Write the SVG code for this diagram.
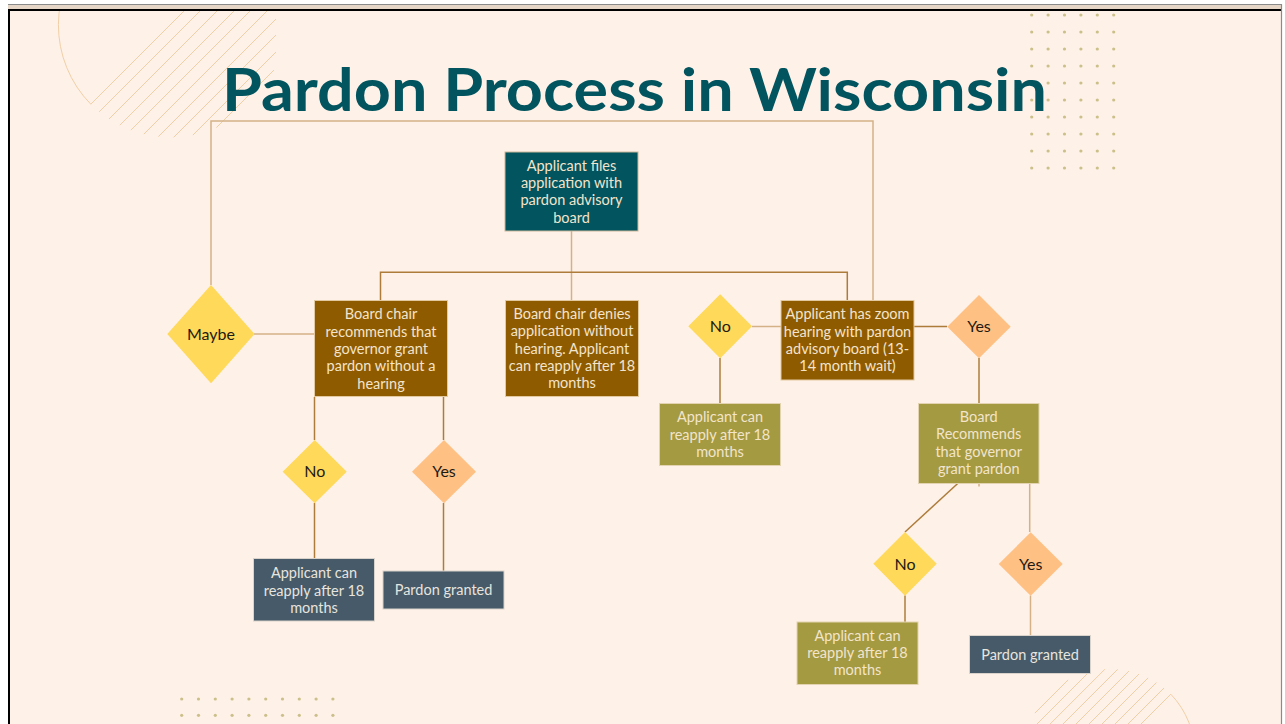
<svg xmlns="http://www.w3.org/2000/svg" width="1285" height="724" viewBox="0 0 1285 724">
<style>
.bg{fill:#FEF1E8}
.hatch{stroke:#F1CFA6;stroke-width:1;fill:none}
.dot{fill:#CBC08A}
.c1{stroke:#D4B187;stroke-width:1.5;fill:none}
.c2{stroke:#AE7C3A;stroke-width:1.5;fill:none}
.teal{fill:#02545E;stroke:#C9B89A;stroke-width:1}
.brown{fill:#8F5B00;stroke:#E3C9A0;stroke-width:1}
.olive{fill:#A39A42;stroke:#E3D3B0;stroke-width:1}
.slate{fill:#465A69;stroke:#D9D3CC;stroke-width:1}
.yel{fill:#FFD959}
.pch{fill:#FFC183}
.bt{font-family:Lato,"Liberation Sans",sans-serif;font-size:14.5px;fill:#F3E4CC;text-anchor:middle}
.st{font-family:Lato,"Liberation Sans",sans-serif;font-size:14.5px;fill:#E8E4DE;text-anchor:middle}
.dt{font-family:Lato,"Liberation Sans",sans-serif;font-size:16px;fill:#1E1A14;text-anchor:middle}
.title{font-family:Lato,"Liberation Sans",sans-serif;font-size:60px;font-weight:700;fill:#02545E}
</style>
<defs>
<clipPath id="tlclip"><rect x="10" y="11" width="266" height="200"/></clipPath>
<clipPath id="brclip"><rect x="900" y="600" width="381" height="124"/></clipPath>
</defs>
<rect x="0" y="0" width="1285" height="724" fill="#FFFFFF"/>
<rect x="8" y="5" width="1274" height="4" fill="#E6D6C8"/>
<line x1="8" y1="4.5" x2="1282" y2="4.5" stroke="#8A8A8A" stroke-width="1.2"/>
<rect x="8" y="9" width="1273" height="2" fill="#000"/>
<rect x="8" y="9" width="2" height="715" fill="#000"/>
<rect class="bg" x="10" y="11" width="1271" height="713"/>
<line x1="1281.5" y1="4" x2="1281.5" y2="724" stroke="#8A8A8A" stroke-width="1.2"/>

<g id="decor-top-left" clip-path="url(#tlclip)">
<path class="hatch" d="M250.6 -55.6 L90.8 104.2 A113 113 0 0 1 250.6 -55.6"/>
<line class="hatch" x1="99.2" y1="111.8" x2="258.2" y2="-47.2"/>
<line class="hatch" x1="109" y1="119" x2="265.4" y2="-37.4"/>
<line class="hatch" x1="119.8" y1="125.2" x2="271.6" y2="-26.6"/>
<line class="hatch" x1="130.9" y1="130.1" x2="276.5" y2="-15.5"/>
<line class="hatch" x1="143.9" y1="134.1" x2="280.5" y2="-2.5"/>
<line class="hatch" x1="158.4" y1="136.6" x2="283" y2="12"/>
<line class="hatch" x1="173.7" y1="137.3" x2="283.7" y2="27.3"/>
<line class="hatch" x1="192.9" y1="135.1" x2="281.5" y2="46.5"/>
<line class="hatch" x1="216.4" y1="127.6" x2="274" y2="70"/>
</g>

<g id="decor-bottom-right" clip-path="url(#brclip)">
<path class="hatch" d="M1049.2 815.8 L1170.8 694.2 A86 86 0 0 1 1049.2 815.8"/>
<line class="hatch" x1="1164" y1="688" x2="1043" y2="809"/>
<line class="hatch" x1="1156.4" y1="682.6" x2="1037.6" y2="801.4"/>
<line class="hatch" x1="1148.1" y1="677.9" x2="1032.9" y2="793.1"/>
<line class="hatch" x1="1139" y1="674" x2="1029" y2="784"/>
<line class="hatch" x1="1128.9" y1="671.1" x2="1026.1" y2="773.9"/>
<line class="hatch" x1="1117.7" y1="669.3" x2="1024.3" y2="762.7"/>
<line class="hatch" x1="1104.9" y1="669.2" x2="1024.2" y2="749.9"/>
<line class="hatch" x1="1089.5" y1="671.5" x2="1026.5" y2="734.5"/>
<line class="hatch" x1="1068.1" y1="679.9" x2="1034.9" y2="713.1"/>
</g>

<g id="dots-top-right">
<g class="dot">
<circle cx="1031.7" cy="15" r="1.6"/><circle cx="1048.1" cy="15" r="1.6"/><circle cx="1064.5" cy="15" r="1.6"/><circle cx="1080.9" cy="15" r="1.6"/><circle cx="1097.3" cy="15" r="1.6"/><circle cx="1113.7" cy="15" r="1.6"/>
<circle cx="1031.7" cy="32" r="1.6"/><circle cx="1048.1" cy="32" r="1.6"/><circle cx="1064.5" cy="32" r="1.6"/><circle cx="1080.9" cy="32" r="1.6"/><circle cx="1097.3" cy="32" r="1.6"/><circle cx="1113.7" cy="32" r="1.6"/>
<circle cx="1031.7" cy="49" r="1.6"/><circle cx="1048.1" cy="49" r="1.6"/><circle cx="1064.5" cy="49" r="1.6"/><circle cx="1080.9" cy="49" r="1.6"/><circle cx="1097.3" cy="49" r="1.6"/><circle cx="1113.7" cy="49" r="1.6"/>
<circle cx="1031.7" cy="66" r="1.6"/><circle cx="1048.1" cy="66" r="1.6"/><circle cx="1064.5" cy="66" r="1.6"/><circle cx="1080.9" cy="66" r="1.6"/><circle cx="1097.3" cy="66" r="1.6"/><circle cx="1113.7" cy="66" r="1.6"/>
<circle cx="1031.7" cy="83" r="1.6"/><circle cx="1048.1" cy="83" r="1.6"/><circle cx="1064.5" cy="83" r="1.6"/><circle cx="1080.9" cy="83" r="1.6"/><circle cx="1097.3" cy="83" r="1.6"/><circle cx="1113.7" cy="83" r="1.6"/>
<circle cx="1031.7" cy="100" r="1.6"/><circle cx="1048.1" cy="100" r="1.6"/><circle cx="1064.5" cy="100" r="1.6"/><circle cx="1080.9" cy="100" r="1.6"/><circle cx="1097.3" cy="100" r="1.6"/><circle cx="1113.7" cy="100" r="1.6"/>
<circle cx="1031.7" cy="117" r="1.6"/><circle cx="1048.1" cy="117" r="1.6"/><circle cx="1064.5" cy="117" r="1.6"/><circle cx="1080.9" cy="117" r="1.6"/><circle cx="1097.3" cy="117" r="1.6"/><circle cx="1113.7" cy="117" r="1.6"/>
<circle cx="1031.7" cy="134" r="1.6"/><circle cx="1048.1" cy="134" r="1.6"/><circle cx="1064.5" cy="134" r="1.6"/><circle cx="1080.9" cy="134" r="1.6"/><circle cx="1097.3" cy="134" r="1.6"/><circle cx="1113.7" cy="134" r="1.6"/>
<circle cx="1031.7" cy="151" r="1.6"/><circle cx="1048.1" cy="151" r="1.6"/><circle cx="1064.5" cy="151" r="1.6"/><circle cx="1080.9" cy="151" r="1.6"/><circle cx="1097.3" cy="151" r="1.6"/><circle cx="1113.7" cy="151" r="1.6"/>
<circle cx="1031.7" cy="168" r="1.6"/><circle cx="1048.1" cy="168" r="1.6"/><circle cx="1064.5" cy="168" r="1.6"/><circle cx="1080.9" cy="168" r="1.6"/><circle cx="1097.3" cy="168" r="1.6"/><circle cx="1113.7" cy="168" r="1.6"/>
</g>
</g>

<g id="dots-bottom-left">
<g class="dot">
<circle cx="181.7" cy="699" r="1.6"/><circle cx="198.5" cy="699" r="1.6"/><circle cx="215.3" cy="699" r="1.6"/><circle cx="232.1" cy="699" r="1.6"/><circle cx="248.9" cy="699" r="1.6"/><circle cx="265.7" cy="699" r="1.6"/><circle cx="282.5" cy="699" r="1.6"/><circle cx="299.3" cy="699" r="1.6"/><circle cx="316.1" cy="699" r="1.6"/><circle cx="332.9" cy="699" r="1.6"/>
<circle cx="181.7" cy="715.3" r="1.6"/><circle cx="198.5" cy="715.3" r="1.6"/><circle cx="215.3" cy="715.3" r="1.6"/><circle cx="232.1" cy="715.3" r="1.6"/><circle cx="248.9" cy="715.3" r="1.6"/><circle cx="265.7" cy="715.3" r="1.6"/><circle cx="282.5" cy="715.3" r="1.6"/><circle cx="299.3" cy="715.3" r="1.6"/><circle cx="316.1" cy="715.3" r="1.6"/><circle cx="332.9" cy="715.3" r="1.6"/>
</g>
</g>

<text id="title" class="title" x="222" y="111" textLength="825" lengthAdjust="spacingAndGlyphs">Pardon Process in Wisconsin</text>

<g id="connectors">
<polyline class="c1" points="211,285 211,121 873,121 873,300"/>
<line class="c1" x1="571.5" y1="231" x2="571.5" y2="300"/>
<polyline class="c2" points="380.5,300 380.5,272.3 847.3,272.3 847.3,300"/>
<line class="c1" x1="254" y1="334" x2="314" y2="334"/>
<line class="c2" x1="314.5" y1="397" x2="314.5" y2="440"/>
<line class="c2" x1="443.5" y1="397" x2="443.5" y2="440"/>
<line class="c2" x1="314.5" y1="503" x2="314.5" y2="558"/>
<line class="c2" x1="443.5" y1="503" x2="443.5" y2="571"/>
<line class="c1" x1="752" y1="326.5" x2="781" y2="326.5"/>
<line class="c2" x1="914" y1="326.5" x2="947" y2="326.5"/>
<line class="c2" x1="720" y1="358" x2="720" y2="403"/>
<line class="c2" x1="979" y1="358" x2="979" y2="403"/>
<line class="c2" x1="957.7" y1="483.5" x2="905" y2="532"/>
<line class="c1" x1="979" y1="483.5" x2="979" y2="486.5"/>
<line class="c1" x1="1029.7" y1="483.5" x2="1029.7" y2="532"/>
<line class="c2" x1="905" y1="595.5" x2="905" y2="622"/>
<line class="c1" x1="1030.5" y1="595.5" x2="1030.5" y2="635"/>
</g>

<g id="node-files">
<rect class="teal" x="505" y="152" width="133" height="79"/>
<text class="bt" x="571.5" y="170.7"><tspan x="571.5">Applicant files</tspan><tspan x="571.5" dy="17.3">application with</tspan><tspan x="571.5" dy="17.3">pardon advisory</tspan><tspan x="571.5" dy="17.3">board</tspan></text>
</g>

<g id="node-maybe">
<polygon class="yel" points="211,285 254.5,334 211,383.3 167.3,334"/>
<text class="dt" x="211" y="339.5">Maybe</text>
</g>

<g id="node-recommends">
<rect class="brown" x="314.5" y="300.5" width="133" height="96"/>
<text class="bt" x="381" y="319.3"><tspan x="381">Board chair</tspan><tspan x="381" dy="17.3">recommends that</tspan><tspan x="381" dy="17.3">governor grant</tspan><tspan x="381" dy="17.3">pardon without a</tspan><tspan x="381" dy="17.3">hearing</tspan></text>
</g>

<g id="node-denies">
<rect class="brown" x="505.5" y="300.5" width="133" height="96"/>
<text class="bt" x="572" y="318.8"><tspan x="572">Board chair denies</tspan><tspan x="572" dy="17.4">application without</tspan><tspan x="572" dy="17.4">hearing. Applicant</tspan><tspan x="572" dy="17.4">can reapply after 18</tspan><tspan x="572" dy="17.4">months</tspan></text>
</g>

<g id="node-zoom">
<rect class="brown" x="781" y="300.5" width="133" height="79.5"/>
<text class="bt" x="847.5" y="319.3"><tspan x="847.5">Applicant has zoom</tspan><tspan x="847.5" dy="17.3">hearing with pardon</tspan><tspan x="847.5" dy="17.3">advisory board (13-</tspan><tspan x="847.5" dy="17.3">14 month wait)</tspan></text>
</g>

<g id="node-no-mid">
<polygon class="yel" points="720.2,294.3 752,326.3 720.2,358.3 688.3,326.3"/>
<text class="dt" x="720.2" y="332">No</text>
</g>

<g id="node-yes-mid">
<polygon class="pch" points="979,295 1010.7,326.7 979,358.3 947.3,326.7"/>
<text class="dt" x="979" y="332.3">Yes</text>
</g>

<g id="node-reapply-mid">
<rect class="olive" x="659.5" y="403.5" width="121" height="62"/>
<text class="bt" x="720" y="422.3"><tspan x="720">Applicant can</tspan><tspan x="720" dy="17.4">reapply after 18</tspan><tspan x="720" dy="17.4">months</tspan></text>
</g>

<g id="node-board-recommends">
<rect class="olive" x="918.5" y="403.5" width="120.5" height="80"/>
<text class="bt" x="978.7" y="421.7"><tspan x="978.7">Board</tspan><tspan x="978.7" dy="17.4">Recommends</tspan><tspan x="978.7" dy="17.4">that governor</tspan><tspan x="978.7" dy="17.4">grant pardon</tspan></text>
</g>

<g id="node-no-left">
<polygon class="yel" points="314.7,440 346.7,471.7 314.7,503.3 282.7,471.7"/>
<text class="dt" x="314.7" y="477.3">No</text>
</g>

<g id="node-yes-left">
<polygon class="pch" points="444,440 476,471.7 444,503.3 412,471.7"/>
<text class="dt" x="444" y="477.3">Yes</text>
</g>

<g id="node-reapply-left">
<rect class="slate" x="253.5" y="558.5" width="121" height="62.5"/>
<text class="st" x="314" y="578.3"><tspan x="314">Applicant can</tspan><tspan x="314" dy="17.2">reapply after 18</tspan><tspan x="314" dy="17.2">months</tspan></text>
</g>

<g id="node-granted-left">
<rect class="slate" x="383" y="571" width="121" height="38"/>
<text class="st" x="443.5" y="595.3">Pardon granted</text>
</g>

<g id="node-no-right">
<polygon class="yel" points="905,532 936.7,563.8 905,595.7 873.3,563.8"/>
<text class="dt" x="905" y="569.5">No</text>
</g>

<g id="node-yes-right">
<polygon class="pch" points="1030.7,532.3 1062.7,564 1030.7,595.7 998.7,564"/>
<text class="dt" x="1030.7" y="569.7">Yes</text>
</g>

<g id="node-reapply-right">
<rect class="olive" x="797" y="622" width="121" height="62.5"/>
<text class="bt" x="857.5" y="640.7"><tspan x="857.5">Applicant can</tspan><tspan x="857.5" dy="17.3">reapply after 18</tspan><tspan x="857.5" dy="17.3">months</tspan></text>
</g>

<g id="node-granted-right">
<rect class="slate" x="969.5" y="635.5" width="121" height="38"/>
<text class="st" x="1030" y="660">Pardon granted</text>
</g>
</svg>
